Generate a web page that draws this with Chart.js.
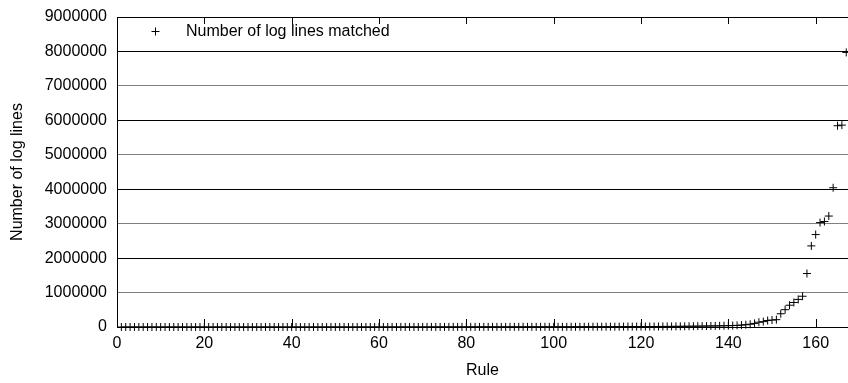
<!DOCTYPE html>
<html>
<head>
<meta charset="utf-8">
<title>Log lines matched per rule</title>
<script src="https://cdn.jsdelivr.net/npm/chart.js@4.4.0/dist/chart.umd.min.js"></script>
<style>
html, body { margin: 0; padding: 0; background: #fff; overflow: hidden; }
</style>
</head>
<body>
<canvas id="mycanvas" width="848" height="383"></canvas>
<script>
// log lines matched by each rule (rules 1..167, sorted by count)
var matched = [
	0, 0, 0, 1, 1, 1, 2, 2, 3, 4,
	5, 5, 7, 8, 10, 12, 13, 16, 19, 22,
	26, 30, 33, 38, 44, 51, 57, 66, 74, 83,
	95, 107, 119, 134, 150, 166, 185, 204, 227, 251,
	275, 302, 331, 360, 394, 428, 466, 505, 547, 592,
	640, 688, 741, 797, 855, 918, 981, 1050, 1122, 1197,
	1276, 1360, 1447, 1538, 1634, 1735, 1840, 1952, 2068, 2188,
	2312, 2443, 2580, 2722, 2870, 3024, 3185, 3352, 3527, 3710,
	3850, 3932, 4011, 4097, 4160, 4228, 4301, 4375, 4436, 4502,
	4570, 4633, 4698, 4757, 4821, 4884, 4940, 4996, 5043, 5088,
	5130, 5340, 5590, 5820, 6105, 6390, 6720, 7010, 7330, 7690,
	8020, 8410, 8790, 9240, 9680, 10150, 10630, 11190, 11720, 12330,
	12910, 13620, 14280, 15040, 15810, 16690, 17580, 18540, 19610, 20720,
	21930, 23180, 24610, 26090, 27820, 29570, 31480, 33610, 35970, 38520,
	42100, 47300, 55200, 66400, 80100, 104000, 139000, 156000, 188000, 201000,
	213000, 385000, 503000, 632000, 712000, 801000, 893000, 1552000, 2355000, 2684000,
	3031000, 3062000, 3221000, 4043000, 5843000, 5861000, 7972000
];

var xTicks = [0, 20, 40, 60, 80, 100, 120, 140, 160];
var yTicks = [0, 1000000, 2000000, 3000000, 4000000, 5000000, 6000000, 7000000, 8000000, 9000000];

var seriesLabel = "Number of log lines matched";
var xTitle = "Rule";
var yTitle = "Number of log lines";

var font = { family: "'Liberation Sans', Arial, Helvetica, sans-serif", size: 16 };

var points = [];
for (var i in matched) {
	points.push({ x: Number(i) + 1, y: matched[i] });
}

// short inward tick marks on the bottom axis and the top border
var innerTicks = {
	id: 'innerTicks',
	beforeDatasetsDraw: function(chart) {
		var ctx = chart.ctx;
		var area = chart.chartArea;
		var xs = chart.scales.x;
		ctx.save();
		ctx.strokeStyle = '#000';
		ctx.lineWidth = 1;
		ctx.beginPath();
		for (var j in xTicks) {
			var px = Math.round(xs.getPixelForValue(xTicks[j])) + 0.5;
			ctx.moveTo(px, area.bottom);
			ctx.lineTo(px, area.bottom - 8);
			ctx.moveTo(px, area.top);
			ctx.lineTo(px, area.top + 7);
		}
		ctx.stroke();
		ctx.restore();
	}
};

// key drawn inside the plot, top left
var innerKey = {
	id: 'innerKey',
	afterDraw: function(chart) {
		var ctx = chart.ctx;
		var area = chart.chartArea;
		var cx = area.left + 38.5;
		var cy = area.top + 14.5;
		ctx.save();
		ctx.strokeStyle = '#000';
		ctx.lineWidth = 1;
		ctx.beginPath();
		ctx.moveTo(cx - 4, cy);
		ctx.lineTo(cx + 4, cy);
		ctx.moveTo(cx, cy - 4);
		ctx.lineTo(cx, cy + 4);
		ctx.stroke();
		ctx.fillStyle = '#000';
		ctx.font = font.size + "px " + font.family;
		ctx.textBaseline = 'middle';
		ctx.textAlign = 'left';
		ctx.fillText(chart.data.datasets[0].label, area.left + 69, cy);
		ctx.restore();
	}
};

var ctx = document.getElementById("mycanvas");

var ScatterGraph = new Chart(ctx, {
	type: 'scatter',
	data: {
		datasets: [
			{
				label: seriesLabel,
				data: points,
				pointStyle: 'cross',
				pointRadius: 4,
				pointHoverRadius: 4,
				borderColor: '#000',
				backgroundColor: '#000',
				borderWidth: 1,
				showLine: false,
				clip: false
			}
		]
	},
	options: {
		responsive: false,
		animation: false,
		devicePixelRatio: 1,
		layout: { autoPadding: false, padding: { top: 17, right: 0, bottom: 0, left: 0 } },
		plugins: {
			legend: { display: false },
			tooltip: { enabled: false }
		},
		scales: {
			x: {
				type: 'linear',
				min: 0,
				max: 167.4,
				afterBuildTicks: function(scale) {
					scale.ticks = xTicks.map(function(v) { return { value: v }; });
				},
				afterFit: function(scale) {
					scale.height = 56;
					scale.paddingLeft = 0;
					scale.paddingRight = 0;
				},
				grid: { drawOnChartArea: false, drawTicks: false },
				border: { display: true, color: '#000', width: 1 },
				ticks: { color: '#000', font: font, padding: 7, maxRotation: 0, autoSkip: false },
				title: { display: true, text: xTitle, color: '#000', font: font, padding: { top: 0, bottom: 3 } }
			},
			y: {
				min: 0,
				max: 9000000,
				afterBuildTicks: function(scale) {
					scale.ticks = yTicks.map(function(v) { return { value: v }; });
				},
				afterFit: function(scale) {
					scale.width = 117;
					scale.paddingTop = 0;
					scale.paddingBottom = 0;
				},
				grid: {
					drawTicks: false,
					lineWidth: 1,
					color: function(c) {
						var m = c.tick.value / 1000000;
						return (m % 2 === 0 || m === 9) ? '#000' : '#7f7f7f';
					}
				},
				border: { display: true, color: '#000', width: 1 },
				ticks: {
					color: '#000',
					font: font,
					padding: 10,
					callback: function(v) { return String(v); }
				},
				title: { display: true, text: yTitle, color: '#000', font: font, padding: { top: 8, bottom: 0 } }
			}
		}
	},
	plugins: [innerTicks, innerKey]
});
</script>
</body>
</html>
